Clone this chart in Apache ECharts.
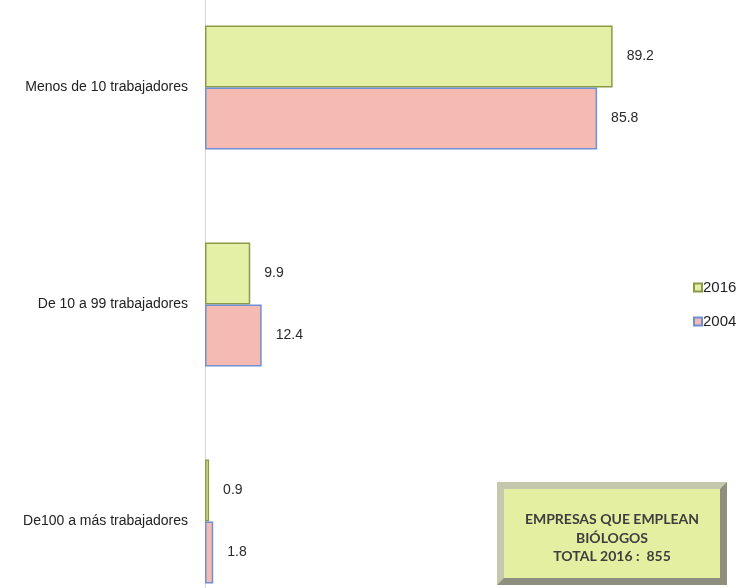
<!DOCTYPE html>
<html>
<head>
<meta charset="utf-8">
<script src="https://cdn.jsdelivr.net/npm/echarts@6/dist/echarts.min.js"></script>
<style>
  html, body { margin: 0; padding: 0; background: #ffffff; }
  #chart { width: 743px; height: 588px; }
</style>
</head>
<body>
<div id="chart"></div>
<script>
// Company size groups, top to bottom
const categories = ['Menos de 10 trabajadores', 'De 10 a 99 trabajadores', 'De100 a más trabajadores'];
// Share of companies (%) per year
const values2016 = [89.2, 9.9, 0.9];
const values2004 = [85.8, 12.4, 1.8];
const seriesNames = ['2016', '2004'];
// Note box text
const noteLines = ['EMPRESAS QUE EMPLEAN', 'BIÓLOGOS', 'TOTAL 2016 :  855'];

const sans = '"Liberation Sans", Arial, sans-serif';

const chart = echarts.init(document.getElementById('chart'), null, { renderer: 'canvas' });

const labelStyle = {
  show: true,
  position: 'right',
  distance: 14,
  fontFamily: sans,
  fontSize: 14,
  color: '#2a2a2a'
};

chart.setOption({
  backgroundColor: '#ffffff',
  animation: false,
  grid: { left: 205, top: -21, width: 457, height: 651, containLabel: false, outerBoundsMode: 'none' },
  xAxis: {
    type: 'value', min: 0, max: 100,
    show: false
  },
  yAxis: {
    type: 'category',
    data: categories,
    inverse: true,
    axisLine: { show: true, lineStyle: { color: '#d4d4d4', width: 1 } },
    axisTick: { show: false },
    axisLabel: { margin: 17, fontFamily: sans, fontSize: 14, color: '#222222' }
  },
  legend: {
    orient: 'vertical',
    left: 688, top: 275,
    icon: 'rect',
    itemWidth: 8, itemHeight: 8, itemGap: 19,
    textStyle: { fontFamily: sans, fontSize: 15, color: '#222222', padding: [0, 0, 0, -4] },
    data: seriesNames
  },
  series: [
    {
      name: seriesNames[0], type: 'bar', data: values2016,
      barWidth: 62, barGap: '0%', clip: false,
      itemStyle: { color: '#e4f0a6', borderColor: '#8c9a48', borderWidth: 1.5 },
      label: labelStyle
    },
    {
      name: seriesNames[1], type: 'bar', data: values2004,
      barWidth: 62, clip: false,
      itemStyle: { color: '#f5bab2', borderColor: '#6f8fd6', borderWidth: 1.5 },
      label: labelStyle
    }
  ],
  graphic: [
    {
      type: 'group', x: 497, y: 482,
      children: [
        { type: 'rect', shape: { x: 0, y: 0, width: 230, height: 103 }, style: { fill: '#8f8f80' } },
        { type: 'polygon', shape: { points: [[0, 0], [230, 0], [223, 7], [7, 7], [7, 96], [0, 103]] }, style: { fill: '#c6c8ae' } },
        { type: 'rect', shape: { x: 7, y: 7, width: 216, height: 89 }, style: { fill: '#e5efa2' } },
        {
          type: 'text', x: 115, y: 56,
          style: {
            text: noteLines.join('\n'),
            align: 'center', verticalAlign: 'middle',
            fontFamily: 'Lato, "Open Sans", sans-serif',
            fontWeight: 'bold', fontSize: 14, lineHeight: 18.5, fill: '#3e3e3e'
          }
        }
      ]
    }
  ]
});
</script>
</body>
</html>
